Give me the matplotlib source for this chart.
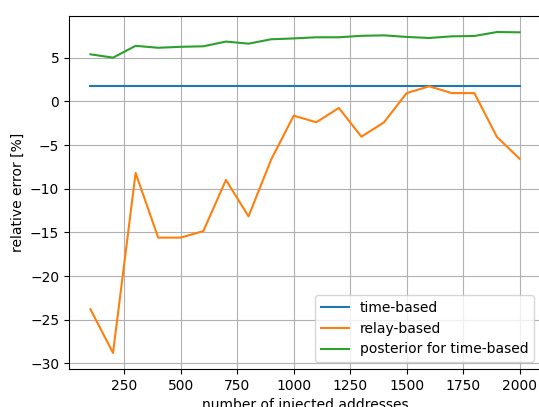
import matplotlib
matplotlib.use("Agg")
import matplotlib.pyplot as plt

# number of injected addresses
injected = list(range(100, 2001, 100))

# relative error [%]
time_based = [1.77] * len(injected)
relay_based = [-23.8, -28.8, -8.2, -15.6, -15.6, -14.85, -9.0, -13.17, -6.68, -1.64,
               -2.4, -0.76, -4.05, -2.4, 0.94, 1.72, 0.94, 0.94, -4.08, -6.56]
posterior = [5.38, 5.0, 6.35, 6.13, 6.24, 6.3, 6.84, 6.6, 7.1, 7.2,
             7.33, 7.33, 7.5, 7.55, 7.37, 7.25, 7.44, 7.48, 7.93, 7.9]

fig = plt.figure(figsize=(5.39, 4.07), dpi=100)
# the reference is cropped on the right, so the right spine falls outside
ax = fig.add_axes([0.128, 0.0934, 0.8757, 0.8673])

ax.plot(injected, time_based, label="time-based")
ax.plot(injected, relay_based, label="relay-based")
ax.plot(injected, posterior, label="posterior for time-based")

ax.set_xlabel("number of injected addresses")
ax.set_ylabel("relative error [%]")
ax.grid(True)
ax.legend(loc="lower right")

fig.savefig("out.png", dpi=100)
